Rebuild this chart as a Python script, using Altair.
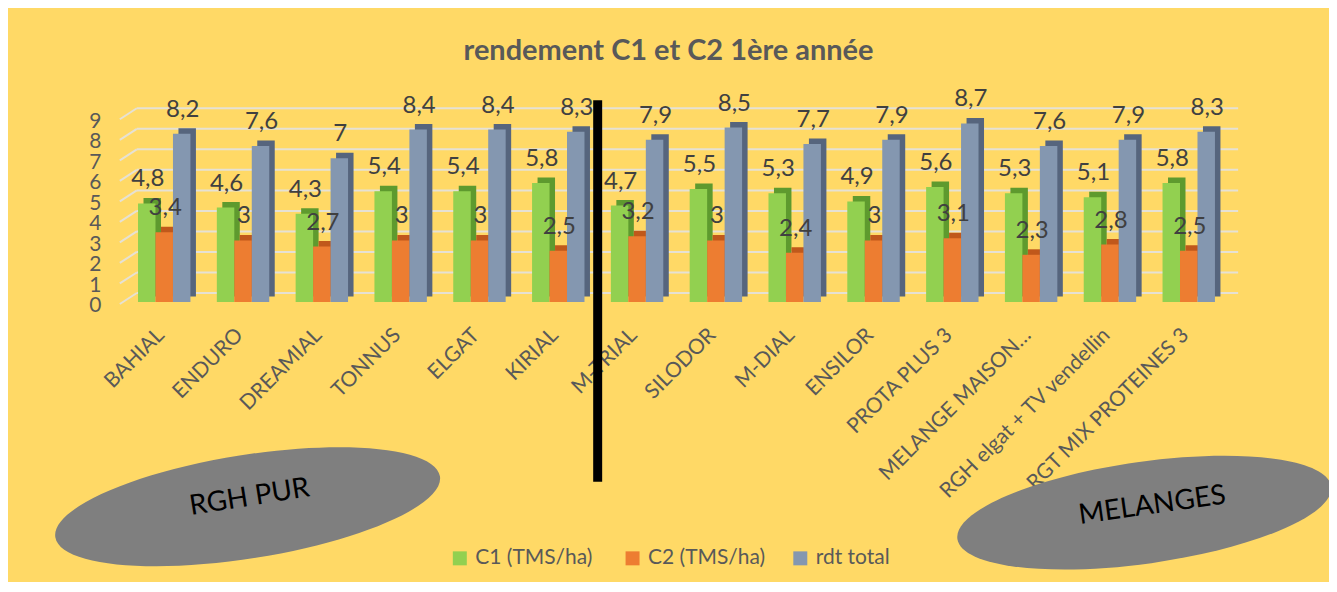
import altair as alt
import pandas as pd

categories = ["BAHIAL", "ENDURO", "DREAMIAL", "TONNUS", "ELGAT", "KIRIAL", "M-TRIAL",
              "SILODOR", "M-DIAL", "ENSILOR", "PROTA PLUS 3", "MELANGE MAISON…",
              "RGH elgat + TV vendellin", "RGT MIX PROTEINES 3"]
c1 = [4.8, 4.6, 4.3, 5.4, 5.4, 5.8, 4.7, 5.5, 5.3, 4.9, 5.6, 5.3, 5.1, 5.8]
c2 = [3.4, 3, 2.7, 3, 3, 2.5, 3.2, 3, 2.4, 3, 3.1, 2.3, 2.8, 2.5]
total = [8.2, 7.6, 7, 8.4, 8.4, 8.3, 7.9, 8.5, 7.7, 7.9, 8.7, 7.6, 7.9, 8.3]
series_names = ["C1  (TMS/ha)", "C2 (TMS/ha)", "rdt total"]
series_colors = ["#92D050", "#ED7D31", "#8497B0"]
series_dark = ["#5E9A2E", "#C0581B", "#56657D"]
y_ticks = list(range(10))
separator_before = "M-TRIAL"
group_labels = ["RGH PUR", "MELANGES"]
title_text = "rendement C1 et C2 1ère année"

rows = []
for s, vals in zip(series_names, [c1, c2, total]):
    for cat, v in zip(categories, vals):
        rows.append({"cat": cat, "series": s, "value": v})
df = pd.DataFrame(rows)

W, H = 1105, 185
BW = 17.5
D = 5.5
FONT = "Lato"
TXT = "#595959"

xscale = alt.Scale(domain=categories, paddingInner=0, paddingOuter=0)
xaxis = alt.Axis(title=None, labelAngle=-45, labelFontSize=21, labelColor=TXT, labelFont=FONT,
                 labelPadding=22, labelOffset=-11, ticks=False, domain=False, grid=False,
                 labelLimit=400, labelOverlap=False)
yscale = alt.Scale(domain=[0, 9], nice=False, zero=True)
yaxis = alt.Axis(title=None, values=y_ticks, labelFontSize=21, labelColor=TXT, labelFont=FONT,
                 ticks=False, domain=False, grid=False, labelPadding=24, labelOffset=4,
                 labelOverlap=False)

x_enc = alt.X("cat:N", sort=categories, scale=xscale, axis=xaxis)
y_enc = alt.Y("value:Q", scale=yscale, axis=yaxis)

ticks_df = pd.DataFrame({"tick": y_ticks})
grid = alt.Chart(ticks_df).mark_rule(color="#E6E1D4", strokeWidth=2, yOffset=-9).encode(
    y=alt.Y("tick:Q", scale=yscale, axis=yaxis), x=alt.value(12), x2=alt.value(W + 10))
diag = alt.Chart(ticks_df).mark_rule(color="#E6E1D4", strokeWidth=2, yOffset=2, y2Offset=-9).encode(
    y=alt.Y("tick:Q", scale=yscale, axis=yaxis), y2=alt.Y2("tick"), x=alt.value(-5), x2=alt.value(12))

layers = [grid, diag]
texts = []
offsets = [-BW, 0, BW]
for s, dark, off in zip(series_names, series_dark, offsets):
    base = alt.Chart(df).transform_filter(alt.datum.series == s)
    depth = base.mark_bar(width=BW, xOffset=off + D, yOffset=-D, y2Offset=-D, color=dark).encode(
        x=x_enc, y=y_enc)
    front = base.mark_bar(width=BW, xOffset=off).encode(
        x=x_enc, y=y_enc,
        color=alt.Color("series:N", scale=alt.Scale(domain=series_names, range=series_colors),
                        legend=alt.Legend(title=None)))
    txt = base.transform_calculate(
        label="replace(format(datum.value, '~g'), '.', ',')"
    ).mark_text(xOffset=off + 1, yOffset=-24, fontSize=24, font=FONT, color="#404040",
                baseline="middle").encode(x=x_enc, y=y_enc, text="label:N")
    layers += [depth, front]
    texts.append(txt)
layers += texts

sep = alt.Chart(pd.DataFrame({"cat": [separator_before]})).mark_rule(color="black", strokeWidth=9).encode(
    x=alt.X("cat:N", bandPosition=0, scale=xscale, axis=xaxis), y=alt.value(-17), y2=alt.value(365))
layers.append(sep)

ELLIPSE = "M-1,0 A1,0.266 0 1,1 1,0 A1,0.266 0 1,1 -1,0 Z"
ELLIPSE2 = "M-1,0 A1,0.27 0 1,1 1,0 A1,0.27 0 1,1 -1,0 Z"
g1 = pd.DataFrame({"g": [group_labels[0]]})
g2 = pd.DataFrame({"g": [group_labels[1]]})
e1 = alt.Chart(g1).mark_point(shape=ELLIPSE, size=152100, filled=True, color="#7F7F7F", opacity=1,
                              angle=351, strokeWidth=0).encode(x=alt.value(123), y=alt.value(390))
e2 = alt.Chart(g2).mark_point(shape=ELLIPSE2, size=142884, filled=True, color="#7F7F7F", opacity=1,
                              angle=352, strokeWidth=0).encode(x=alt.value(1021), y=alt.value(396))
l1 = alt.Chart(g1).mark_text(fontSize=28, font=FONT, color="black", angle=351).encode(
    x=alt.value(125), y=alt.value(381), text="g:N")
l2 = alt.Chart(g2).mark_text(fontSize=28, font=FONT, color="black", angle=352).encode(
    x=alt.value(1029), y=alt.value(389), text="g:N")
layers += [e1, e2, l1, l2]

chart = alt.layer(*layers).properties(
    width=W, height=H,
    title=alt.TitleParams(title_text, fontSize=29, font=FONT, fontWeight="bold", color=TXT,
                          frame="group", anchor="middle", dx=-8, offset=22),
    background="#FFD966",
    padding={"left": 117, "top": 109, "right": 101, "bottom": 280},
    autosize=alt.AutoSizeParams(type="none"),
).configure_view(stroke=None).configure_legend(
    orient="none", legendX=325, legendY=431, direction="horizontal",
    symbolType="square", symbolSize=196, symbolStrokeWidth=0,
    labelFontSize=21, labelColor=TXT, labelFont=FONT, columnPadding=24, labelOffset=5,
)

chart.save("out.html", embed_options={"renderer": "svg", "actions": False})
